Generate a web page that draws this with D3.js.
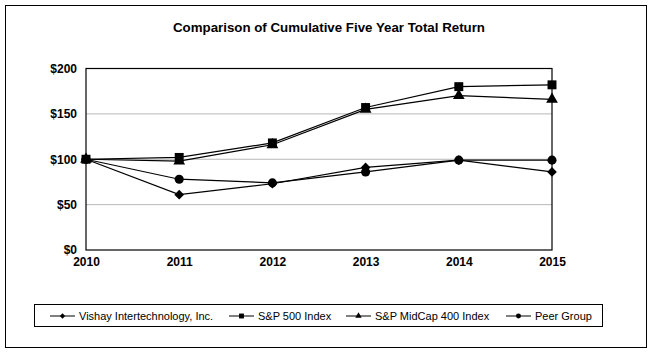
<!DOCTYPE html>
<html>
<head>
<meta charset="utf-8">
<script src="https://cdn.jsdelivr.net/npm/d3@7"></script>
<style>
  body { margin: 0; background: #fff; }
  text { font-family: Arial, "Liberation Sans", sans-serif; }
</style>
</head>
<body>
<div class="chart"></div>
<script>
const years = ["2010", "2011", "2012", "2013", "2014", "2015"];
const vishay = [100, 61, 73, 91, 99, 86];
const sp500 = [100, 102, 118, 157, 180, 182];
const midcap = [100, 98, 116, 155, 170, 166];
const peer = [100, 78, 74, 86, 99, 99];
const yTicks = [0, 50, 100, 150, 200];

const series = [
  { name: "Vishay Intertechnology, Inc.", values: vishay, symbol: d3.symbolDiamond2, size: 60 },
  { name: "S&P 500 Index", values: sp500, symbol: d3.symbolSquare, size: 80 },
  { name: "S&P MidCap 400 Index", values: midcap, symbol: d3.symbolTriangle, size: 60 },
  { name: "Peer Group", values: peer, symbol: d3.symbolCircle, size: 65 }
];

const W = 654, H = 354;
let margin = { top: 68.5, right: 102, bottom: 104, left: 86 };
let width = W - margin.left - margin.right;
let height = H - margin.top - margin.bottom;

const root = d3.select(".chart").append("svg")
  .attr("width", W)
  .attr("height", H);

// outer frame
root.append("rect")
  .attr("x", 5.5).attr("y", 5.5)
  .attr("width", 641).attr("height", 342)
  .attr("fill", "none").attr("stroke", "#000").attr("stroke-width", 1);

root.append("text")
  .attr("x", 329).attr("y", 32)
  .attr("text-anchor", "middle")
  .attr("textLength", 312)
  .attr("lengthAdjust", "spacingAndGlyphs")
  .style("font-size", "13px")
  .style("font-weight", "bold")
  .text("Comparison of Cumulative Five Year Total Return");

let svg = root.append("g")
  .attr("transform", `translate(${margin.left}, ${margin.top})`);

let xScale = d3.scalePoint().domain(years).range([0, width]);
let yScale = d3.scaleLinear().domain([0, 200]).range([height, 0]);

// gridlines
svg.append("g")
  .selectAll("line")
  .data(yTicks.filter(d => d > 0 && d < 200))
  .join("line")
  .attr("x1", 0).attr("x2", width)
  .attr("y1", d => yScale(d)).attr("y2", d => yScale(d))
  .attr("stroke", "#b8b8b8").attr("stroke-width", 1);

svg.append("rect")
  .attr("width", width).attr("height", height)
  .attr("fill", "none").attr("stroke", "#000").attr("stroke-width", 1.2);

const yAxis = svg.append("g")
  .call(d3.axisLeft(yScale).tickValues(yTicks).tickSize(0).tickPadding(9).tickFormat(d => "$" + d));
yAxis.select(".domain").remove();
yAxis.selectAll("text").style("font-size", "12px").style("font-weight", "bold").attr("fill", "#000");

const xAxis = svg.append("g")
  .attr("transform", `translate(0, ${height})`)
  .call(d3.axisBottom(xScale).tickSize(0).tickPadding(7));
xAxis.select(".domain").remove();
xAxis.selectAll("text").style("font-size", "12px").style("font-weight", "bold").attr("fill", "#000");

const line = d3.line()
  .x((d, i) => xScale(years[i]))
  .y(d => yScale(d));

series.forEach(s => {
  svg.append("path")
    .datum(s.values)
    .attr("d", line)
    .attr("fill", "none")
    .attr("stroke", "#000")
    .attr("stroke-width", 1.2);
});

series.forEach(s => {
  svg.append("g")
    .selectAll("path")
    .data(s.values)
    .join("path")
    .attr("transform", (d, i) => `translate(${xScale(years[i])}, ${yScale(d)})`)
    .attr("d", d3.symbol().type(s.symbol).size(s.size))
    .attr("fill", "#000");
});

// legend
const legend = root.append("g");
legend.append("rect")
  .attr("x", 34.5).attr("y", 304.5)
  .attr("width", 568).attr("height", 22)
  .attr("fill", "none").attr("stroke", "#000").attr("stroke-width", 1);

const legendX = [50, 229, 346, 506];
series.forEach((s, i) => {
  const g = legend.append("g").attr("transform", `translate(${legendX[i]}, 316)`);
  g.append("line").attr("x1", 0).attr("x2", 25).attr("y1", 0).attr("y2", 0)
    .attr("stroke", "#000").attr("stroke-width", 1);
  g.append("path").attr("transform", "translate(12.5,0)")
    .attr("d", d3.symbol().type(s.symbol).size(s.size * 0.3))
    .attr("fill", "#000");
  g.append("text").attr("x", 29).attr("y", 4)
    .style("font-size", "11px")
    .text(s.name);
});
</script>
</body>
</html>
